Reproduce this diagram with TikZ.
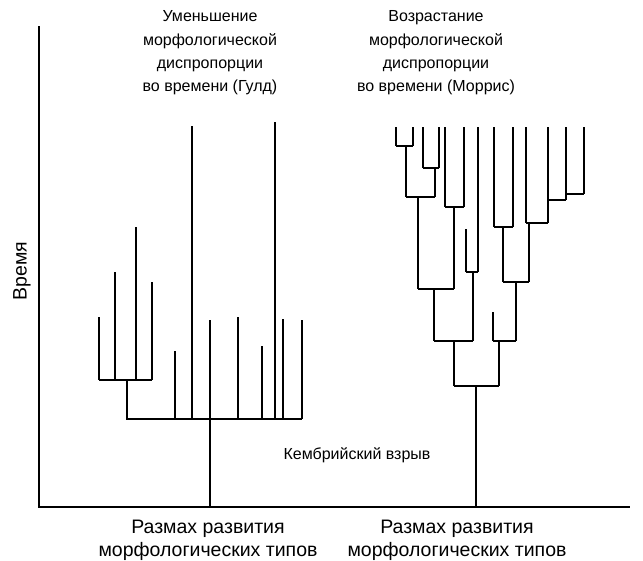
\documentclass[tikz,border=0pt]{standalone}
\usepackage{fontspec}
\setmainfont{Liberation Sans}
\usepackage{tikz}
\usetikzlibrary{positioning}

\tikzset{
    ramo/.style={line width=1.8pt},
    eixo/.style={line width=1.3pt},
    rotulo/.style={align=center, font=\fontsize{16}{23.3}\selectfont},
    rotulogrande/.style={align=center, font=\fontsize{19.5}{23}\selectfont}
}

\begin{document}
\begin{tikzpicture}[x=1pt, y=-1pt]
        \useasboundingbox (0,0) rectangle (643,560);

        % Eixos
        \coordinate (origem) at (39,507);
        \draw[eixo] (39,26) -- (origem) -- (630,507);

        % Primeiro arvore (Gould)
        \draw[ramo] (126,419) -- (302,419);
        \draw[eixo] (210,419) -- (210,507);
        \draw[ramo] (127,419) -- (127,380);
        \draw[ramo] (99,380) -- (152,380);
        \foreach \x/\y in {99/317, 115/272, 136/227, 152/282}
            \draw[ramo] (\x,\y) -- (\x,380);
        \foreach \x/\y in {175/351, 192/126, 210/320, 238/317, 262/346, 275/122, 283/319, 302/320}
            \draw[ramo] (\x,\y) -- (\x,419);

        % Segundo arvore (Morris)
        \foreach \x/\y in {396/146, 413/146, 423/168, 439/168, 445/207, 464/207, 478/272,
                           494/227, 513/227, 526/223, 548/223, 566/200, 584/194}
            \draw[ramo] (\x,127) -- (\x,\y);
        \draw[ramo] (466,229) -- (466,272);
        \draw[ramo] (493,312) -- (493,341);
        % barras horizontais
        \foreach \a/\b/\y in {396/413/146, 423/439/168, 406/435/197, 445/464/207, 418/454/289,
                              466/478/272, 434/473/341, 494/513/227, 526/548/223, 548/566/200,
                              566/584/194, 503/529/282, 493/516/341, 454/499/386}
            \draw[ramo] (\a,\y) -- (\b,\y);
        % hastes
        \foreach \x/\a/\b in {406/146/197, 435/168/197, 418/197/289, 454/207/289, 434/289/341,
                              473/272/341, 454/341/386, 503/227/282, 529/223/282, 516/282/341,
                              499/341/386}
            \draw[ramo] (\x,\a) -- (\x,\b);
        \draw[eixo] (476,386) -- (476,507);

        % Textos
        \node[rotulo] (gould) at (210,53) {Уменьшение\\морфологической\\диспропорции\\во времени (Гулд)};
        \node[rotulo] (morris) at (436,53) {Возрастание\\морфологической\\диспропорции\\во времени (Моррис)};
        \node[rotulo] (kembrii) at (357,455) {Кембрийский взрыв};
        \node[rotulogrande, rotate=90] (vremia) at (22,271) {Время};
        \node[rotulogrande] (razmah1) at (208,540) {Размах развития\\морфологических типов};
        \node[rotulogrande] (razmah2) at (457,540) {Размах развития\\морфологических типов};
    \end{tikzpicture}
\end{document}
